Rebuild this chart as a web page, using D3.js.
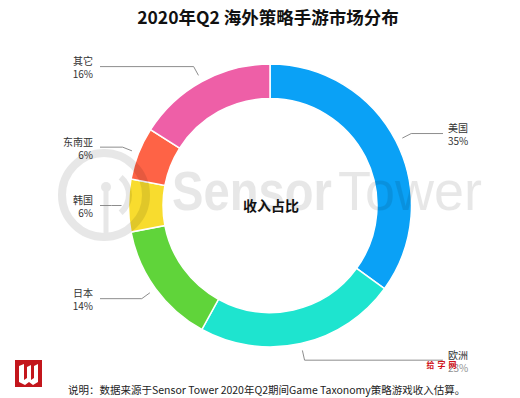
<!DOCTYPE html>
<html>
<head>
<meta charset="utf-8">
<script src="https://cdn.jsdelivr.net/npm/d3@7"></script>
<style>
  html, body { margin: 0; padding: 0; background: #fff; }
  svg { display: block; font-family: "Noto Sans CJK SC", "Noto Sans", sans-serif; }
</style>
</head>
<body>
<svg id="chart" width="520" height="398"></svg>
<script>
// data
const regions = ["美国", "欧洲", "日本", "韩国", "东南亚", "其它"]
const shares = [35, 23, 14, 6, 6, 16]
const palette = ["#0aa1f6", "#1ee4cf", "#60d43a", "#f8dc2e", "#fe6346", "#ee5fa7"]

const title = "2020年Q2 海外策略手游市场分布"
const centerText = "收入占比"
const note = "说明：数据来源于Sensor Tower 2020年Q2期间Game Taxonomy策略游戏收入估算。"

const svg = d3.select("#chart")
const cx = 270, cy = 205.5
const R = 141.5, r0 = 107

let color = d3.scaleOrdinal().domain(regions).range(palette)

// title
svg.append("text")
  .attr("x", 268).attr("y", 24)
  .attr("text-anchor", "middle")
  .attr("font-size", 17.5).attr("font-weight", 700).attr("fill", "#111")
  .text(title)

//donut
let pie = d3.pie().sort(null).value((d, i) => shares[i])
let arcs = pie(regions)
let arc = d3.arc().innerRadius(r0).outerRadius(R)

let g = svg.append("g").attr("transform", `translate(${cx},${cy})`)
g.selectAll("path").data(arcs).enter().append("path")
  .attr("d", arc)
  .attr("fill", d => color(d.data))
  .attr("stroke", "#fff").attr("stroke-width", 1.5)

//sensor tower watermark, drawn over the ring
let wm = svg.append("g").attr("fill", "#000").attr("opacity", 0.09)
wm.append("circle").attr("cx", 104).attr("cy", 195).attr("r", 42)
  .attr("fill", "none").attr("stroke", "#000").attr("stroke-width", 8)
wm.append("path")
  .attr("d", d3.arc().innerRadius(20).outerRadius(26).startAngle(Math.PI * 0.22).endAngle(Math.PI * 0.78)())
  .attr("transform", "translate(106,195)")
wm.append("circle").attr("cx", 106).attr("cy", 187).attr("r", 5)
wm.append("rect").attr("x", 103.5).attr("y", 187).attr("width", 5).attr("height", 48)
wm.append("text").attr("x", 172).attr("y", 210)
  .attr("font-family", "Liberation Sans, Arial, sans-serif")
  .attr("font-size", 56).attr("font-weight", 700)
  .attr("textLength", 160).attr("lengthAdjust", "spacingAndGlyphs")
  .text("Sensor")
wm.append("text").attr("x", 338).attr("y", 210)
  .attr("font-family", "Liberation Sans, Arial, sans-serif")
  .attr("font-size", 56)
  .attr("textLength", 144).attr("lengthAdjust", "spacingAndGlyphs")
  .text("Tower")

// centre label
svg.append("text")
  .attr("x", cx + 1).attr("y", cy + 5.5)
  .attr("text-anchor", "middle")
  .attr("font-size", 14).attr("font-weight", 700).attr("fill", "#111")
  .text(centerText)

//leader lines + labels
let pt = (a, rr) => [cx + rr * Math.sin(a), cy - rr * Math.cos(a)]
let lab = svg.append("g")
arcs.forEach(d => {
  let mid = (d.startAngle + d.endAngle) / 2
  let right = mid < Math.PI
  let p0 = pt(mid, R + 7)
  let p1 = pt(mid, R + 17)
  let p2 = [right ? 443 : 100, p1[1]]
  lab.append("path")
    .attr("d", d3.line()([p0, p1, p2]))
    .attr("fill", "none").attr("stroke", "#808080").attr("stroke-width", 0.9)

  let tx = right ? 448 : 93
  let anchor = right ? "start" : "end"
  lab.append("text").attr("x", tx).attr("y", p1[1] - 1.5)
    .attr("text-anchor", anchor).attr("font-size", 10).attr("fill", "#333")
    .text(d.data)
  lab.append("text").attr("x", tx).attr("y", p1[1] + 11.5)
    .attr("text-anchor", anchor).attr("font-size", 10).attr("fill", "#333")
    .attr("opacity", p1[1] > 340 ? 0.55 : 1)
    .text(d.value + "%")
})

// stamp over the bottom right label
svg.append("text").attr("x", 443).attr("y", 368)
  .attr("text-anchor", "middle").attr("font-size", 8).attr("font-weight", 700)
  .attr("letter-spacing", 3).attr("fill", "#d0121b")
  .text("给字网")

// red logo bottom left
svg.append("rect").attr("x", 15).attr("y", 360).attr("width", 27).attr("height", 27).attr("fill", "#c3161c")
svg.append("path")
  .attr("d", "M19,366 L24,364 L24,380 L27,378 L27,367 L31,365 L31,380 L34,378 L34,366 L38,364 L38,382 L33,385 L29,382 L25,385 L19,382 Z")
  .attr("fill", "#fff")

// footnote
svg.append("text").attr("x", 68).attr("y", 394)
  .attr("font-size", 10.5).attr("fill", "#222")
  .text(note)
</script>
</body>
</html>
